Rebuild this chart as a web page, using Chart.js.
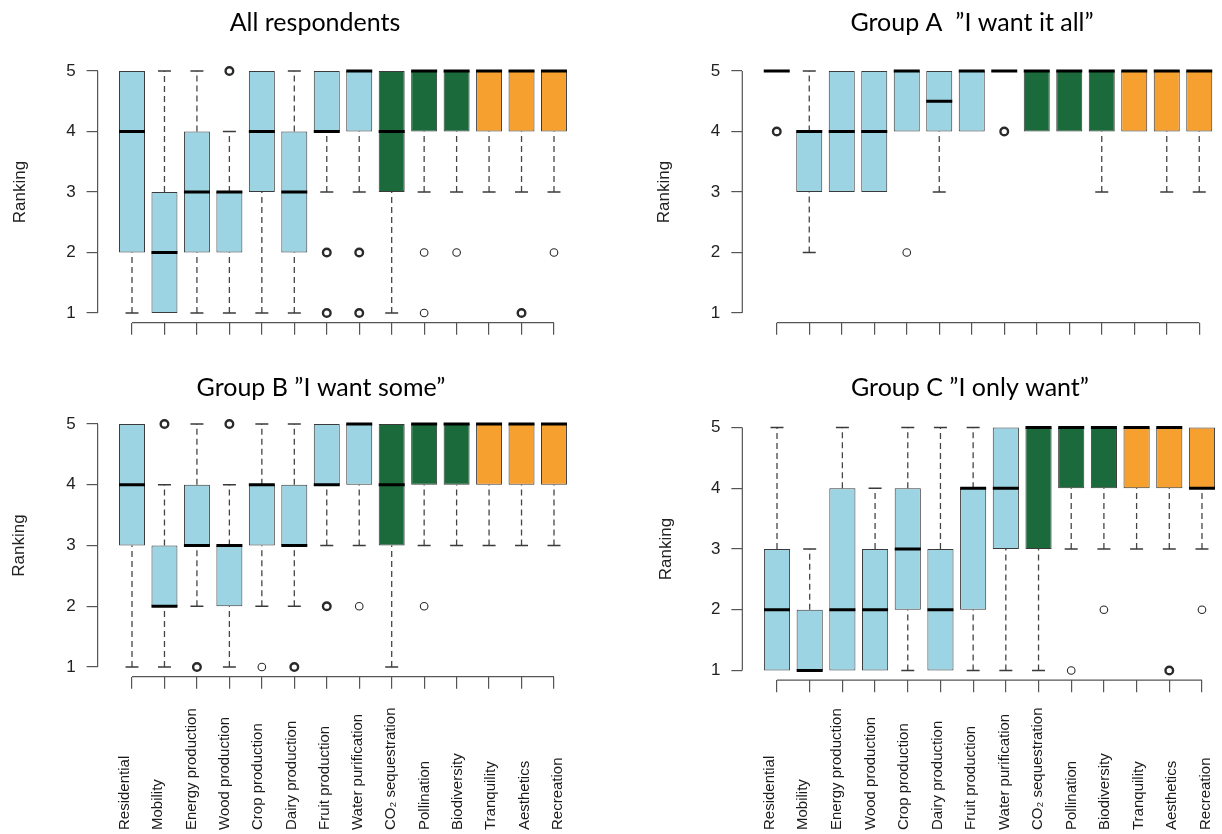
<!DOCTYPE html>
<html>
<head>
<meta charset="utf-8">
<script src="https://cdn.jsdelivr.net/npm/chart.js@4.4.1/dist/chart.umd.min.js"></script>
<style>
  html, body { margin: 0; padding: 0; background: #fff; overflow: hidden; }
  body { width: 1222px; height: 834px; position: relative; }
  canvas { position: absolute; }
</style>
</head>
<body>
<canvas id="cAll"></canvas>
<canvas id="cA"></canvas>
<canvas id="cB"></canvas>
<canvas id="cC"></canvas>
<script>
// ecosystem services on the x axis
const categories = ['Residential', 'Mobility', 'Energy production', 'Wood production', 'Crop production',
  'Dairy production', 'Fruit production', 'Water purification', 'CO\u2082 sequestration', 'Pollination',
  'Biodiversity', 'Tranquility', 'Aesthetics', 'Recreation'];
const yTicks = [1, 2, 3, 4, 5];

// All respondents: whisker low, Q1, median, Q3, whisker high
const allLo  = [1, 1, 1, 1, 1, 1, 3, 3, 1, 3, 3, 3, 3, 3];
const allQ1  = [2, 1, 2, 2, 3, 2, 4, 4, 3, 4, 4, 4, 4, 4];
const allMed = [4, 2, 3, 3, 4, 3, 4, 5, 4, 5, 5, 5, 5, 5];
const allQ3  = [5, 3, 4, 3, 5, 4, 5, 5, 5, 5, 5, 5, 5, 5];
const allHi  = [5, 5, 5, 4, 5, 5, 5, 5, 5, 5, 5, 5, 5, 5];
// outliers: [category number, ranking, repeated answers]
const allOut = [[4, 5, 3], [7, 2, 3], [7, 1, 3], [8, 2, 3], [8, 1, 3], [10, 2, 1], [10, 1, 1],
  [11, 2, 1], [13, 1, 3], [14, 2, 1]];

// Group A "I want it all"
const aLo  = [5, 2, 3, 3, 4, 3, 4, 5, 4, 4, 3, 4, 3, 3];
const aQ1  = [5, 3, 3, 3, 4, 4, 4, 5, 4, 4, 4, 4, 4, 4];
const aMed = [5, 4, 4, 4, 5, 4.5, 5, 5, 5, 5, 5, 5, 5, 5];
const aQ3  = [5, 4, 5, 5, 5, 5, 5, 5, 5, 5, 5, 5, 5, 5];
const aHi  = [5, 5, 5, 5, 5, 5, 5, 5, 5, 5, 5, 5, 5, 5];
const aOut = [[1, 4, 3], [5, 2, 1], [8, 4, 3]];

// Group B "I want some"
const bLo  = [1, 1, 2, 1, 2, 2, 3, 3, 1, 3, 3, 3, 3, 3];
const bQ1  = [3, 2, 3, 2, 3, 3, 4, 4, 3, 4, 4, 4, 4, 4];
const bMed = [4, 2, 3, 3, 4, 3, 4, 5, 4, 5, 5, 5, 5, 5];
const bQ3  = [5, 3, 4, 3, 4, 4, 5, 5, 5, 5, 5, 5, 5, 5];
const bHi  = [5, 4, 5, 4, 5, 5, 5, 5, 5, 5, 5, 5, 5, 5];
const bOut = [[2, 5, 3], [3, 1, 3], [4, 5, 3], [5, 1, 1], [6, 1, 3], [7, 2, 2], [8, 2, 1], [10, 2, 1]];

// Group C "I only want"
const cLo  = [1, 1, 1, 1, 1, 1, 1, 1, 1, 3, 3, 3, 3, 3];
const cQ1  = [1, 1, 1, 1, 2, 1, 2, 3, 3, 4, 4, 4, 4, 4];
const cMed = [2, 1, 2, 2, 3, 2, 4, 4, 5, 5, 5, 5, 5, 4];
const cQ3  = [3, 2, 4, 3, 4, 3, 4, 5, 5, 5, 5, 5, 5, 5];
const cHi  = [5, 3, 5, 4, 5, 5, 5, 5, 5, 5, 5, 5, 5, 5];
const cOut = [[10, 1, 1], [11, 2, 1], [13, 1, 3], [14, 2, 1]];

// colours: land use / provisioning, regulating, cultural
const BLUE = '#9dd4e3', GREEN = '#1b6a3b', ORANGE = '#f6a030';
const boxFill = categories.map((c, i) => i < 8 ? BLUE : (i < 11 ? GREEN : ORANGE));

const AXIS_FONT = '"Liberation Sans", Arial, sans-serif';

// R style axes: lines only between first and last tick
const rAxisPlugin = {
  id: 'rAxis',
  beforeDatasetsDraw(chart) {
    const { ctx, scales: { x, y }, chartArea } = chart;
    ctx.save();
    ctx.strokeStyle = '#555';
    ctx.lineWidth = 1.2;
    ctx.beginPath();
    ctx.moveTo(chartArea.left, y.getPixelForValue(yTicks[0]));
    ctx.lineTo(chartArea.left, y.getPixelForValue(yTicks[yTicks.length - 1]));
    ctx.moveTo(x.getPixelForValue(1), chartArea.bottom);
    ctx.lineTo(x.getPixelForValue(categories.length), chartArea.bottom);
    ctx.stroke();
    ctx.restore();
  }
};

// vertical category names, starting from the bottom of the figure
const catLabelPlugin = {
  id: 'catLabels',
  afterDraw(chart, args, opts) {
    if (!opts.show) return;
    const { ctx, scales: { x } } = chart;
    ctx.save();
    ctx.font = '15px ' + AXIS_FONT;
    ctx.fillStyle = '#1a1a1a';
    ctx.textAlign = 'left';
    ctx.textBaseline = 'middle';
    categories.forEach((c, i) => {
      ctx.save();
      ctx.translate(x.getPixelForValue(0.78 + i * 1.026), chart.height - 4);
      ctx.rotate(-Math.PI / 2);
      ctx.fillText(c, 0, 0);
      ctx.restore();
    });
    ctx.restore();
  }
};

function makePanel(id, title, lo, q1, med, q3, hi, out, box) {
  const canvas = document.getElementById(id);
  canvas.width = box.w;
  canvas.height = box.h;
  canvas.style.left = box.left + 'px';
  canvas.style.top = box.top + 'px';

  const whiskers = [];
  const caps = [];
  categories.forEach((c, i) => {
    const k = i + 1;
    if (hi[i] > q3[i]) {
      whiskers.push({ x: k, y: q3[i] }, { x: k, y: hi[i] }, { x: k, y: null });
      caps.push({ x: k, y: hi[i] });
    }
    if (lo[i] < q1[i]) {
      whiskers.push({ x: k, y: lo[i] }, { x: k, y: q1[i] }, { x: k, y: null });
      caps.push({ x: k, y: lo[i] });
    }
  });

  // the plot region runs to the canvas edge, like R's cropped figure
  const xMin = -0.06;
  const xMax = xMin + (box.w - box.yw) / box.step;

  return new Chart(canvas, {
    type: 'bar',
    data: {
      datasets: [
        {
          type: 'scatter',
          data: med.map((v, i) => ({ x: i + 1, y: v })),
          pointStyle: 'line',
          pointRadius: 13,
          borderColor: '#000',
          pointBorderWidth: 3,
          order: 0
        },
        {
          type: 'scatter',
          data: out.map(([k, v, n]) => ({ x: k, y: v, n: n })),
          pointStyle: 'circle',
          pointRadius: 3.8,
          backgroundColor: 'rgba(0,0,0,0)',
          borderColor: '#2a2a2a',
          pointBorderWidth: ctx => (ctx.raw && ctx.raw.n > 1) ? 2.4 : 1.1,
          order: 1
        },
        {
          type: 'scatter',
          data: caps,
          pointStyle: 'line',
          pointRadius: 6.5,
          borderColor: '#3a3a3a',
          pointBorderWidth: 1.3,
          order: 1
        },
        {
          type: 'bar',
          data: q1.map((v, i) => ({ x: i + 1, y: [v, q3[i]] })),
          backgroundColor: boxFill,
          borderColor: '#3a3a3a',
          borderWidth: 1,
          borderSkipped: false,
          categoryPercentage: 0.8,
          barPercentage: 1,
          order: 2
        },
        {
          type: 'line',
          data: whiskers,
          borderColor: '#444',
          borderWidth: 1.3,
          borderDash: [6, 4],
          pointRadius: 0,
          spanGaps: false,
          order: 3
        }
      ]
    },
    options: {
      responsive: false,
      animation: false,
      events: [],
      layout: { padding: 0, autoPadding: false },
      plugins: {
        legend: { display: false },
        tooltip: { enabled: false },
        title: {
          display: true,
          text: title,
          color: '#000',
          font: { family: 'Lato', size: 25, weight: 'normal' },
          padding: { top: box.tTop, bottom: box.tBot }
        },
        catLabels: { show: box.labels }
      },
      scales: {
        x: {
          type: 'linear',
          min: xMin,
          max: xMax,
          offset: false,
          afterBuildTicks: s => { s.ticks = categories.map((c, i) => ({ value: i + 1 })); },
          ticks: { display: false, autoSkip: false },
          grid: { offset: false, drawOnChartArea: false, drawTicks: true, tickLength: 12, color: '#555', lineWidth: 1.2 },
          border: { display: false },
          afterFit: s => { s.height = box.xh; }
        },
        y: {
          type: 'linear',
          min: 0.84,
          max: 5.16,
          afterBuildTicks: s => { s.ticks = yTicks.map(v => ({ value: v })); },
          ticks: { color: '#222', font: { family: AXIS_FONT, size: 17 }, padding: 11 },
          grid: { drawOnChartArea: false, drawTicks: true, tickLength: 11, color: '#555', lineWidth: 1.2 },
          border: { display: false },
          title: {
            display: true,
            text: 'Ranking',
            color: '#222',
            font: { family: AXIS_FONT, size: 17 },
            padding: { top: box.rankPad, bottom: 0 }
          },
          afterFit: s => { s.width = box.yw; }
        }
      }
    },
    plugins: [rAxisPlugin, catLabelPlugin]
  });
}

makePanel('cAll', 'All respondents', allLo, allQ1, allMed, allQ3, allHi, allOut,
  { left: 0, top: 0, w: 630, h: 345, yw: 97.6, step: 32.46, xh: 22.3, tTop: 7.5, tBot: 23.8, rankPad: 10, labels: false });
makePanel('cA', 'Group A  \u201DI want it all\u201D', aLo, aQ1, aMed, aQ3, aHi, aOut,
  { left: 630, top: 0, w: 684, h: 345, yw: 112.3, step: 32.5, xh: 22.3, tTop: 7.5, tBot: 23.8, rankPad: 24, labels: false });
makePanel('cB', 'Group B \u201DI want some\u201D', bLo, bQ1, bMed, bQ3, bHi, bOut,
  { left: 0, top: 340, w: 642, h: 494, yw: 97.6, step: 32.46, xh: 157.3, tTop: 33, tBot: 11.3, rankPad: 9.5, labels: true });
makePanel('cC', 'Group C \u201DI only want\u201D', cLo, cQ1, cMed, cQ3, cHi, cOut,
  { left: 642, top: 340, w: 656, h: 494, yw: 100.35, step: 32.69, xh: 153.8, tTop: 33, tBot: 14.8, rankPad: 14, labels: true });
</script>
</body>
</html>
